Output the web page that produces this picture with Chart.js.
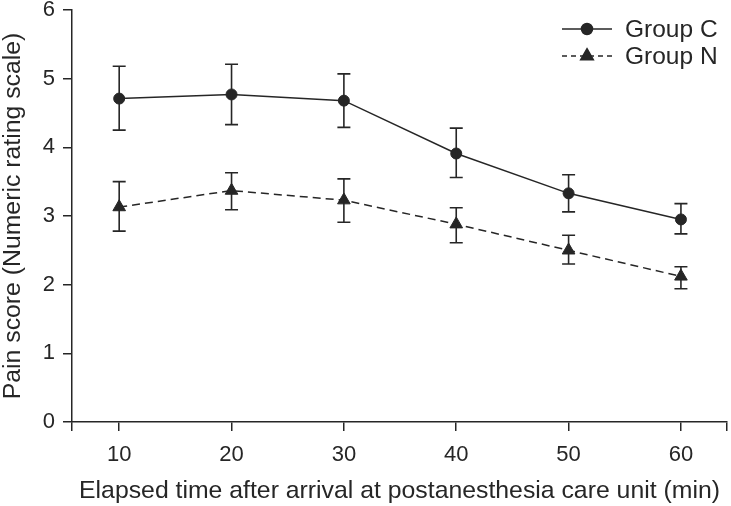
<!DOCTYPE html>
<html>
<head>
<meta charset="utf-8">
<script src="https://cdn.jsdelivr.net/npm/chart.js@4.4.1/dist/chart.umd.min.js"></script>
<style>
  html, body { margin: 0; padding: 0; background: #fff; }
  #wrap { width: 731px; height: 506px; }
</style>
</head>
<body>
<div id="wrap"><canvas id="grafico" width="731" height="506"></canvas></div>
<script>
// Datos
const tiempos = [10, 20, 30, 40, 50, 60];
const grupoC = [4.71, 4.77, 4.68, 3.91, 3.33, 2.95];
const grupoCAlto = [5.18, 5.21, 5.07, 4.28, 3.60, 3.18];
const grupoCBajo = [4.25, 4.33, 4.29, 3.56, 3.06, 2.74];
const grupoN = [3.13, 3.37, 3.23, 2.88, 2.50, 2.12];
const grupoNAlto = [3.50, 3.63, 3.54, 3.12, 2.72, 2.26];
const grupoNBajo = [2.78, 3.09, 2.91, 2.61, 2.30, 1.94];
const ticksY = [0, 1, 2, 3, 4, 5, 6];
const etiquetas = ['Group C', 'Group N'];

const tinta = '#262626';
const fuente = "'Liberation Sans', Arial, sans-serif";

// Barras de error dibujadas con las escalas del gráfico
const barrasError = {
    id: 'barrasError',
    afterDatasetsDraw(chart) {
        const ctx = chart.ctx;
        const xs = chart.scales.x, ys = chart.scales.y;
        const limites = [[grupoCBajo, grupoCAlto], [grupoNBajo, grupoNAlto]];
        ctx.save();
        ctx.strokeStyle = tinta;
        ctx.lineWidth = 1.6;
        ctx.setLineDash([]);
        limites.forEach(([bajo, alto]) => {
            tiempos.forEach((t, i) => {
                const x = xs.getPixelForValue(t);
                const y1 = ys.getPixelForValue(bajo[i]);
                const y2 = ys.getPixelForValue(alto[i]);
                ctx.beginPath();
                ctx.moveTo(x, y1); ctx.lineTo(x, y2);
                ctx.moveTo(x - 6.5, y1); ctx.lineTo(x + 6.5, y1);
                ctx.moveTo(x - 6.5, y2); ctx.lineTo(x + 6.5, y2);
                ctx.stroke();
            });
        });
        ctx.restore();
    }
};

// Leyenda con la línea y el marcador como en la figura
const leyenda = {
    id: 'leyenda',
    afterDraw(chart) {
        const ctx = chart.ctx;
        const filas = [
            { y: 29, dash: [], marca: 'circle' },
            { y: 56, dash: [5, 4], marca: 'triangle' }
        ];
        ctx.save();
        filas.forEach((f, i) => {
            ctx.strokeStyle = tinta;
            ctx.fillStyle = tinta;
            ctx.lineWidth = 1.5;
            ctx.setLineDash(f.dash);
            ctx.beginPath();
            ctx.moveTo(562, f.y); ctx.lineTo(612, f.y);
            ctx.stroke();
            ctx.setLineDash([]);
            Chart.helpers.drawPoint(ctx, { pointStyle: f.marca, radius: f.marca === 'circle' ? 5.5 : 7.3, borderWidth: 1 }, 587, f.y);
            ctx.font = '24.5px ' + fuente;
            ctx.textBaseline = 'middle';
            ctx.textAlign = 'left';
            ctx.fillText(etiquetas[i], 625, f.y + 1);
        });
        ctx.restore();
    }
};

const ctx = document.getElementById('grafico').getContext('2d');
new Chart(ctx, {
    type: 'line',
    data: {
        datasets: [{
            label: etiquetas[0],
            data: tiempos.map((t, i) => ({ x: t, y: grupoC[i] })),
            borderColor: tinta,
            backgroundColor: tinta,
            borderWidth: 1.5,
            pointStyle: 'circle',
            pointRadius: 5.5,
            pointBorderWidth: 1
        }, {
            label: etiquetas[1],
            data: tiempos.map((t, i) => ({ x: t, y: grupoN[i] })),
            borderColor: tinta,
            backgroundColor: tinta,
            borderWidth: 1.5,
            borderDash: [8, 5],
            pointStyle: 'triangle',
            pointRadius: 7.3,
            pointBorderWidth: 1
        }]
    },
    options: {
        responsive: false,
        animation: false,
        layout: { autoPadding: false, padding: 0 },
        plugins: {
            legend: { display: false },
            tooltip: { enabled: false }
        },
        scales: {
            x: {
                type: 'linear',
                min: 5.8,
                max: 64.1,
                afterBuildTicks: (scale) => {
                    scale.ticks = [5.8, ...tiempos, 64.1].map(v => ({ value: v }));
                },
                afterFit: (scale) => {
                    scale.height = 84;
                    scale.paddingLeft = 0;
                    scale.paddingRight = 4;
                },
                ticks: {
                    color: tinta,
                    font: { family: fuente, size: 22 },
                    padding: 11,
                    maxRotation: 0,
                    callback: (v) => tiempos.includes(v) ? String(v) : ''
                },
                grid: { drawOnChartArea: false, drawTicks: true, tickLength: 9, color: tinta, lineWidth: 1.5 },
                border: { display: true, color: tinta, width: 1.5 },
                title: {
                    display: true,
                    text: 'Elapsed time after arrival at postanesthesia care unit (min)',
                    color: tinta,
                    font: { family: fuente, size: 24.8 },
                    padding: { top: 0, bottom: 0 }
                }
            },
            y: {
                min: 0,
                max: 6,
                afterBuildTicks: (scale) => {
                    scale.ticks = ticksY.map(v => ({ value: v }));
                },
                afterFit: (scale) => {
                    scale.width = 72;
                    scale.paddingTop = 10;
                    scale.paddingBottom = 0;
                },
                ticks: {
                    color: tinta,
                    font: { family: fuente, size: 22 },
                    padding: 8
                },
                grid: { drawOnChartArea: false, drawTicks: true, tickLength: 9, color: tinta, lineWidth: 1.5 },
                border: { display: true, color: tinta, width: 1.5 },
                title: {
                    display: true,
                    text: 'Pain score (Numeric rating scale)',
                    color: tinta,
                    font: { family: fuente, size: 24.8 },
                    padding: { top: -2, bottom: 0 }
                }
            }
        }
    },
    plugins: [barrasError, leyenda]
});
</script>
</body>
</html>
